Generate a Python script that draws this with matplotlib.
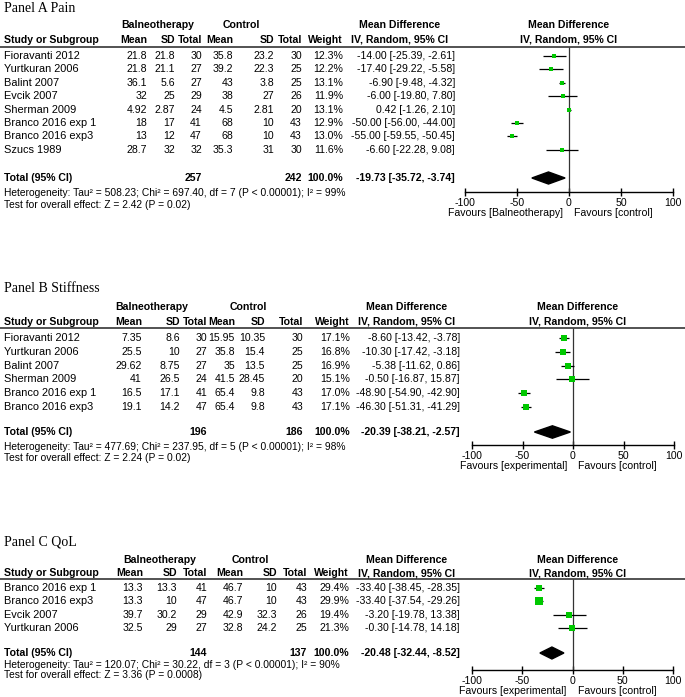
import matplotlib
matplotlib.use("Agg")
import matplotlib.pyplot as plt
from matplotlib.patches import Polygon
import numpy as np

W, H = 685, 697

# ---------------- Data ----------------
# Panel A: Pain
studies_a = ["Fioravanti 2012", "Yurtkuran 2006", "Balint 2007", "Evcik 2007",
             "Sherman 2009", "Branco 2016 exp 1", "Branco 2016 exp3", "Szucs 1989"]
bal_mean_a = [21.8, 21.8, 36.1, 32, 4.92, 18, 13, 28.7]
bal_sd_a = [21.8, 21.1, 5.6, 25, 2.87, 17, 12, 32]
bal_n_a = [30, 27, 27, 29, 24, 41, 47, 32]
ctl_mean_a = [35.8, 39.2, 43, 38, 4.5, 68, 68, 35.3]
ctl_sd_a = [23.2, 22.3, 3.8, 27, 2.81, 10, 10, 31]
ctl_n_a = [30, 25, 25, 26, 20, 43, 43, 30]
weight_a = [12.3, 12.2, 13.1, 11.9, 13.1, 12.9, 13.0, 11.6]
md_a = [-14.00, -17.40, -6.90, -6.00, 0.42, -50.00, -55.00, -6.60]
lo_a = [-25.39, -29.22, -9.48, -19.80, -1.26, -56.00, -59.55, -22.28]
hi_a = [-2.61, -5.58, -4.32, 7.80, 2.10, -44.00, -50.45, 9.08]
total_a = [257, 242]
pooled_a = [-19.73, -35.72, -3.74]
het_a = "Heterogeneity: Tau\u00b2 = 508.23; Chi\u00b2 = 697.40, df = 7 (P < 0.00001); I\u00b2 = 99%"
test_a = "Test for overall effect: Z = 2.42 (P = 0.02)"

# Panel B: Stiffness
studies_b = ["Fioravanti 2012", "Yurtkuran 2006", "Balint 2007", "Sherman 2009",
             "Branco 2016 exp 1", "Branco 2016 exp3"]
bal_mean_b = [7.35, 25.5, 29.62, 41, 16.5, 19.1]
bal_sd_b = [8.6, 10, 8.75, 26.5, 17.1, 14.2]
bal_n_b = [30, 27, 27, 24, 41, 47]
ctl_mean_b = [15.95, 35.8, 35, 41.5, 65.4, 65.4]
ctl_sd_b = [10.35, 15.4, 13.5, 28.45, 9.8, 9.8]
ctl_n_b = [30, 25, 25, 20, 43, 43]
weight_b = [17.1, 16.8, 16.9, 15.1, 17.0, 17.1]
md_b = [-8.60, -10.30, -5.38, -0.50, -48.90, -46.30]
lo_b = [-13.42, -17.42, -11.62, -16.87, -54.90, -51.31]
hi_b = [-3.78, -3.18, 0.86, 15.87, -42.90, -41.29]
total_b = [196, 186]
pooled_b = [-20.39, -38.21, -2.57]
het_b = "Heterogeneity: Tau\u00b2 = 477.69; Chi\u00b2 = 237.95, df = 5 (P < 0.00001); I\u00b2 = 98%"
test_b = "Test for overall effect: Z = 2.24 (P = 0.02)"

# Panel C: QoL
studies_c = ["Branco 2016 exp 1", "Branco 2016 exp3", "Evcik 2007", "Yurtkuran 2006"]
bal_mean_c = [13.3, 13.3, 39.7, 32.5]
bal_sd_c = [13.3, 10, 30.2, 29]
bal_n_c = [41, 47, 29, 27]
ctl_mean_c = [46.7, 46.7, 42.9, 32.8]
ctl_sd_c = [10, 10, 32.3, 24.2]
ctl_n_c = [43, 43, 26, 25]
weight_c = [29.4, 29.9, 19.4, 21.3]
md_c = [-33.40, -33.40, -3.20, -0.30]
lo_c = [-38.45, -37.54, -19.78, -14.78]
hi_c = [-28.35, -29.26, 13.38, 14.18]
total_c = [144, 137]
pooled_c = [-20.48, -32.44, -8.52]
het_c = "Heterogeneity: Tau\u00b2 = 120.07; Chi\u00b2 = 30.22, df = 3 (P < 0.00001); I\u00b2 = 90%"
test_c = "Test for overall effect: Z = 3.36 (P = 0.0008)"

xticks = [-100, -50, 0, 50, 100]

# ---------------- Figure ----------------
plt.rcParams['font.family'] = ['Liberation Sans', 'DejaVu Sans']
fig = plt.figure(figsize=(W / 100, H / 100), dpi=100)
FS = 7.6
FS_NAME = 7.9
FS_NOTE = 7.4
GREEN = '#00c800'


def T(x, y, s, ha='left', bold=False, size=FS, family=None, color='black'):
    kw = {}
    if family is not None:
        kw['family'] = family
    fig.text(x / W, 1 - y / H, s, ha=ha, va='center', fontsize=size,
             fontweight='bold' if bold else 'normal', color=color, **kw)


def fmt(v):
    return '{:g}'.format(v)


def ci(m, l, h):
    return '{:.2f} [{:.2f}, {:.2f}]'.format(m, l, h)


def panel(title, title_y, grp_y, hdr_y, line_y, first_y, dy, total_y, het_y, test_y,
          axis_y, xm100, xp100, cols, grp_c, md_c_x, fr_c, fav_left,
          studies, bm, bs, bn, cm, cs, cn, wt, md, lo, hi, tot, pooled, het, test):
    T(4, title_y, title, size=10, family=['Liberation Serif', 'DejaVu Serif'])
    c_bm, c_bs, c_bn, c_cm, c_cs, c_cn, c_w, c_md = cols
    T(grp_c[0], grp_y, 'Balneotherapy', ha='center', bold=True)
    T(grp_c[1], grp_y, 'Control', ha='center', bold=True)
    T(md_c_x, grp_y, 'Mean Difference', ha='center', bold=True)
    T(fr_c, grp_y, 'Mean Difference', ha='center', bold=True)
    T(4, hdr_y, 'Study or Subgroup', bold=True)
    for x, s in zip([c_bm, c_bs, c_bn, c_cm, c_cs, c_cn, c_w],
                    ['Mean', 'SD', 'Total', 'Mean', 'SD', 'Total', 'Weight']):
        T(x, hdr_y, s, ha='right', bold=True)
    T(md_c_x, hdr_y, 'IV, Random, 95% CI', ha='center', bold=True)
    T(fr_c, hdr_y, 'IV, Random, 95% CI', ha='center', bold=True)
    fig.add_artist(plt.Line2D([0, 1], [1 - line_y / H] * 2, color='#444444', lw=1.3,
                              transform=fig.transFigure))
    for i, s in enumerate(studies):
        y = first_y + i * dy
        T(4, y, s, size=FS_NAME)
        for x, v in zip([c_bm, c_bs, c_bn, c_cm, c_cs, c_cn],
                        [bm[i], bs[i], bn[i], cm[i], cs[i], cn[i]]):
            T(x, y, fmt(v), ha='right')
        T(c_w, y, '{:.1f}%'.format(wt[i]), ha='right')
        T(c_md, y, ci(md[i], lo[i], hi[i]), ha='right')
    T(4, total_y, 'Total (95% CI)', bold=True)
    T(c_bn, total_y, str(tot[0]), ha='right', bold=True)
    T(c_cn, total_y, str(tot[1]), ha='right', bold=True)
    T(c_w, total_y, '100.0%', ha='right', bold=True)
    T(c_md, total_y, ci(*pooled), ha='right', bold=True)
    T(4, het_y, het, size=FS_NOTE)
    T(4, test_y, test, size=FS_NOTE)

    # forest axes
    ax = fig.add_axes([xm100 / W, 1 - axis_y / H, (xp100 - xm100) / W, (axis_y - line_y) / H])
    ax.set_xlim(-100, 100)
    ax.set_ylim(axis_y, line_y)
    ax.patch.set_alpha(0)
    for sp in ['top', 'left', 'right']:
        ax.spines[sp].set_visible(False)
    ax.spines['bottom'].set_linewidth(1.0)
    ax.set_yticks([])
    ax.set_xticks(xticks)
    ax.set_xticklabels([str(t) for t in xticks], fontsize=FS)
    ax.tick_params(axis='x', direction='inout', length=6, width=1.0, pad=1.5)
    ax.axvline(0, color='#333333', lw=0.9)
    ys = first_y + np.arange(len(studies)) * dy
    ax.hlines(ys, lo, hi, color='black', lw=0.9)
    for y, m, w in zip(ys, md, wt):
        ax.plot([m], [y], marker='s', ms=(1.0 + 1.1 * np.sqrt(w)) * 0.72, color=GREEN,
                mew=0, ls='none', zorder=3)
    half = 0.45 * dy
    ax.add_patch(Polygon([[pooled[1], total_y], [pooled[0], total_y - half],
                          [pooled[2], total_y], [pooled[0], total_y + half]],
                         closed=True, color='black', zorder=3))
    zero_px = (xm100 + xp100) / 2
    T(zero_px - 6, axis_y + 21, fav_left, ha='right')
    T(zero_px + 5, axis_y + 21, 'Favours [control]', ha='left')


panel('Panel A Pain', 8, 25, 40, 46.5, 56, 13.4, 178, 193, 205,
      192, 465, 673, [147, 175, 202, 233, 274, 302, 343, 455], [158, 241], 400, 569,
      'Favours [Balneotherapy]',
      studies_a, bal_mean_a, bal_sd_a, bal_n_a, ctl_mean_a, ctl_sd_a, ctl_n_a,
      weight_a, md_a, lo_a, hi_a, total_a, pooled_a, het_a, test_a)

panel('Panel B Stiffness', 288, 307, 322, 328, 338, 13.8, 432, 447, 458,
      445, 472, 674, [142, 180, 207, 235, 265, 303, 350, 460], [152, 248], 407, 578,
      'Favours [experimental]',
      studies_b, bal_mean_b, bal_sd_b, bal_n_b, ctl_mean_b, ctl_sd_b, ctl_n_b,
      weight_b, md_b, lo_b, hi_b, total_b, pooled_b, het_b, test_b)

panel('Panel C QoL', 542, 560, 573, 579, 588, 13.3, 653, 665, 675,
      670, 472, 673, [143, 177, 207, 243, 277, 307, 349, 460], [160, 250], 407, 578,
      'Favours [experimental]',
      studies_c, bal_mean_c, bal_sd_c, bal_n_c, ctl_mean_c, ctl_sd_c, ctl_n_c,
      weight_c, md_c, lo_c, hi_c, total_c, pooled_c, het_c, test_c)

fig.savefig('out.png', dpi=100)
